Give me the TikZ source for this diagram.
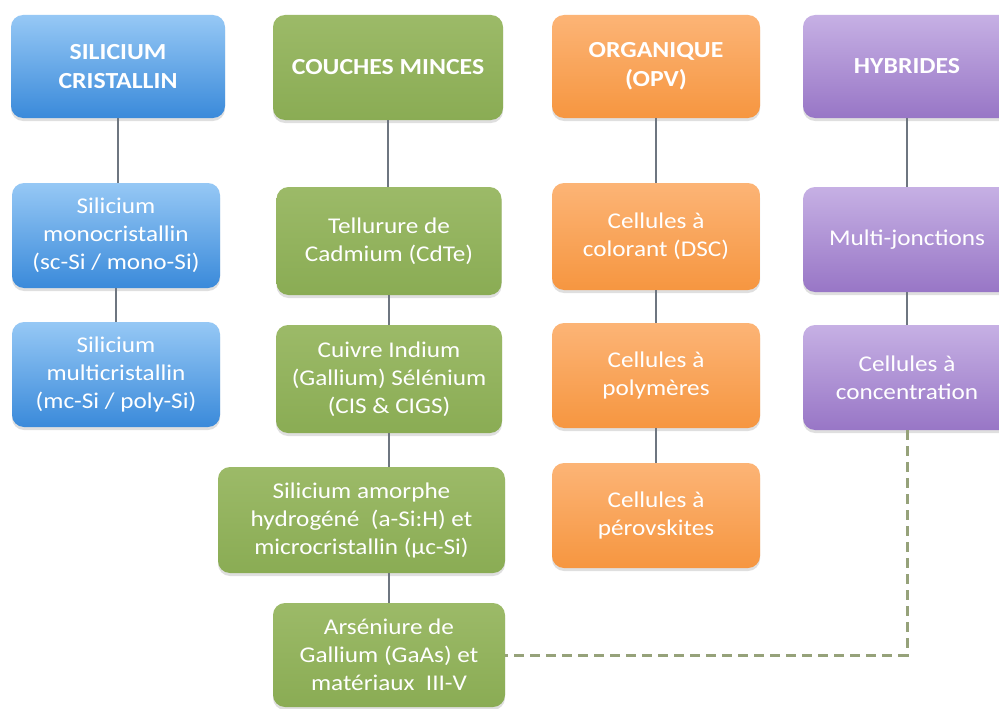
\documentclass[tikz,border=0pt]{standalone}
\usepackage{fontspec}
\setmainfont[FakeStretch=1.12]{Carlito}
\usepackage{tikz}
\usetikzlibrary{shadows}
\usetikzlibrary{positioning}
\definecolor{bluetop}{RGB}{150,200,245}
\definecolor{bluebot}{RGB}{58,138,218}
\definecolor{greentop}{RGB}{156,186,104}
\definecolor{greenbot}{RGB}{138,172,84}
\definecolor{orangetop}{RGB}{252,180,118}
\definecolor{orangebot}{RGB}{246,150,64}
\definecolor{purpletop}{RGB}{198,176,228}
\definecolor{purplebot}{RGB}{152,118,198}
\definecolor{linkgray}{RGB}{110,118,128}
\definecolor{dashgreen}{RGB}{150,162,122}
\tikzset{
	box/.style={rounded corners=12pt, text=white, align=center, inner sep=2pt,
		font=\fontsize{22.5}{28}\selectfont,
		drop shadow={opacity=0.25, shadow xshift=0pt, shadow yshift=-3pt}},
	head/.style={box, font=\fontsize{23}{29}\selectfont\bfseries},
	bluebox/.style={top color=bluetop, bottom color=bluebot},
	greenbox/.style={top color=greentop, bottom color=greenbot},
	orangebox/.style={top color=orangetop, bottom color=orangebot},
	purplebox/.style={top color=purpletop, bottom color=purplebot},
	link/.style={draw=linkgray, line width=2pt},
	dashlink/.style={draw=dashgreen, line width=3pt, dash pattern=on 10pt off 6pt}
}
\begin{document}
\begin{tikzpicture}[x=1pt,y=-1pt]
	\clip (0,0) rectangle (999,709);
	\fill[white] (0,0) rectangle (999,709);

	% silicium cristallin column
	\node[head, bluebox, minimum width=214pt, minimum height=103pt] (sil) at (118,66.5) {SILICIUM\\CRISTALLIN};
	\node[box, bluebox, minimum width=208pt, minimum height=105pt] (mono) at (116,235.5) {Silicium\\monocristallin\\(sc-Si / mono-Si)};
	\node[box, bluebox, minimum width=208pt, minimum height=105pt] (multi) at (116,374.5) {Silicium\\multicristallin\\(mc-Si / poly-Si)};

	% couches minces column
	\node[head, greenbox, minimum width=230pt, minimum height=105pt] (couches) at (388,67.5) {COUCHES MINCES};
	\node[box, greenbox, minimum width=225pt, minimum height=108pt] (cdte) at (389,241) {Tellurure de\\Cadmium (CdTe)};
	\node[box, greenbox, minimum width=226pt, minimum height=108pt] (cigs) at (389,379) {Cuivre Indium\\(Gallium) Sélénium\\(CIS \& CIGS)};
	\node[box, greenbox, minimum width=287pt, minimum height=106pt] (amorph) at (361.5,520) {Silicium amorphe\\hydrogéné\ \ (a-Si:H) et\\microcristallin (µc-Si)};
	\node[box, greenbox, minimum width=232pt, minimum height=104pt] (gaas) at (389,655) {Arséniure de\\Gallium (GaAs) et\\matériaux\ \ III-V};

	% organique column
	\node[head, orangebox, minimum width=208pt, minimum height=103pt] (opv) at (656,66.5) {ORGANIQUE\\(OPV)};
	\node[box, orangebox, minimum width=208pt, minimum height=107pt] (dsc) at (656,236.5) {Cellules à\\colorant (DSC)};
	\node[box, orangebox, minimum width=208pt, minimum height=105pt] (poly) at (656,375.5) {Cellules à\\polymères};
	\node[box, orangebox, minimum width=208pt, minimum height=105pt] (perov) at (656,515.5) {Cellules à\\pérovskites};

	% hybrides column
	\node[head, purplebox, minimum width=208pt, minimum height=103pt] (hyb) at (907,66.5) {HYBRIDES};
	\node[box, purplebox, minimum width=208pt, minimum height=105pt] (mj) at (907,239.5) {Multi-jonctions};
	\node[box, purplebox, minimum width=208pt, minimum height=105pt] (conc) at (907,377.5) {Cellules à\\concentration};

	% links
	\draw[link] (sil.south) -- (sil.south |- mono.north);
	\draw[link] (mono.south) -- (multi.north);
	\draw[link] (couches.south) -- (couches.south |- cdte.north);
	\draw[link] (cdte.south) -- (cigs.south |- cdte.south) -- (cigs.north);
	\draw[link] (cigs.south) -- (cigs.south |- amorph.north);
	\draw[link] (cigs.south |- amorph.south) -- (gaas.north);
	\draw[link] (opv.south) -- (dsc.north);
	\draw[link] (dsc.south) -- (poly.north);
	\draw[link] (poly.south) -- (perov.north);
	\draw[link] (hyb.south) -- (mj.north);
	\draw[link] (mj.south) -- (conc.north);

	% dashed link to GaAs
	\draw[dashlink] (conc.south) |- (gaas.east);
\end{tikzpicture}
\end{document}
